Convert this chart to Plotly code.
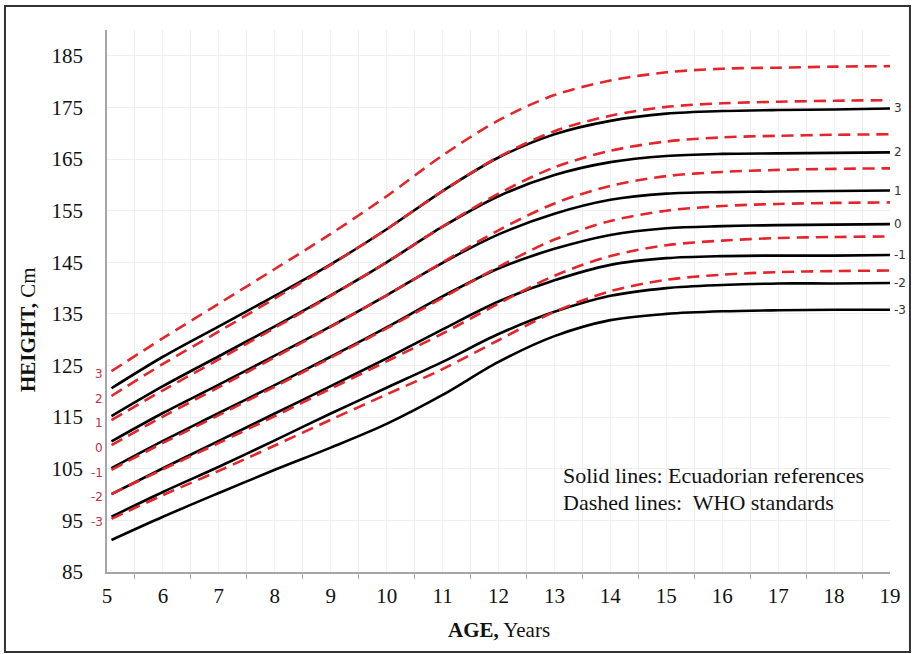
import plotly.graph_objects as go

ages = [5.08, 6, 7, 8, 9, 10, 11, 12, 13, 14, 15, 16, 17, 18, 19]
z_labels = ["3", "2", "1", "0", "-1", "-2", "-3"]

# WHO standards (dashed), z = 3 .. -3
who = {
    "3":  [123.9, 130.3, 137.0, 143.7, 150.5, 157.8, 165.7, 172.5, 177.4, 180.2, 181.8, 182.5, 182.7, 182.9, 183.0],
    "2":  [119.1, 125.3, 131.6, 138.0, 144.5, 151.4, 158.8, 165.4, 170.4, 173.4, 175.1, 175.8, 176.1, 176.3, 176.4],
    "1":  [114.4, 120.2, 126.2, 132.3, 138.5, 145.0, 151.9, 158.3, 163.4, 166.6, 168.4, 169.2, 169.5, 169.7, 169.8],
    "0":  [109.6, 115.1, 120.8, 126.6, 132.5, 138.6, 145.0, 151.2, 156.4, 159.8, 161.7, 162.5, 162.9, 163.1, 163.2],
    "-1": [104.8, 110.0, 115.4, 120.9, 126.5, 132.2, 138.1, 144.1, 149.4, 153.0, 155.0, 155.9, 156.3, 156.5, 156.6],
    "-2": [100.1, 104.9, 110.0, 115.2, 120.5, 125.8, 131.2, 137.0, 142.4, 146.2, 148.3, 149.2, 149.7, 149.9, 150.0],
    "-3": [95.3, 99.9, 104.6, 109.5, 114.5, 119.4, 124.3, 129.9, 135.4, 139.4, 141.6, 142.6, 143.1, 143.3, 143.4],
}

# Ecuadorian references (solid), z = 3 .. -3
ecu = {
    "3":  [120.6, 126.7, 132.6, 138.5, 144.6, 151.4, 158.8, 165.3, 169.8, 172.4, 173.8, 174.3, 174.5, 174.6, 174.8],
    "2":  [115.2, 121.0, 126.8, 132.6, 138.6, 145.0, 151.9, 157.8, 161.9, 164.4, 165.6, 166.0, 166.1, 166.2, 166.3],
    "1":  [110.3, 115.8, 121.3, 126.9, 132.6, 138.6, 144.9, 150.4, 154.4, 157.1, 158.3, 158.6, 158.7, 158.8, 158.9],
    "0":  [105.1, 110.4, 115.8, 121.2, 126.7, 132.4, 138.4, 143.8, 147.6, 150.3, 151.6, 152.0, 152.2, 152.3, 152.4],
    "-1": [100.1, 105.1, 110.4, 115.7, 121.0, 126.4, 132.0, 137.4, 141.5, 144.5, 145.8, 146.2, 146.3, 146.3, 146.4],
    "-2": [95.7, 100.5, 105.4, 110.5, 115.7, 120.7, 125.7, 131.1, 135.4, 138.5, 140.0, 140.6, 140.9, 140.9, 141.0],
    "-3": [91.2, 95.7, 100.3, 104.8, 109.1, 113.7, 119.3, 125.7, 130.7, 133.8, 135.0, 135.5, 135.7, 135.8, 135.8],
}

x_ticks = list(range(5, 20))
y_ticks = list(range(85, 190, 10))

RED = "#e3262b"
SERIF = "Liberation Serif, Times New Roman, serif"
SANS = "DejaVu Sans, Arial, sans-serif"

fig = go.Figure()
for z in z_labels:
    fig.add_trace(go.Scatter(x=ages, y=ecu[z], mode="lines", line=dict(color="black", width=2.6, shape="spline", smoothing=0.9),
                             showlegend=False, hoverinfo="skip"))
for z in z_labels:
    fig.add_trace(go.Scatter(x=ages, y=who[z], mode="lines", line=dict(color=RED, width=2.6, dash="12px,7px", shape="spline", smoothing=0.9),
                             showlegend=False, hoverinfo="skip"))

annotations = []
for z in z_labels:
    annotations.append(dict(x=19, y=ecu[z][-1], xref="x", yref="y", text=z, showarrow=False, xanchor="left",
                            xshift=2, font=dict(family=SANS, size=12, color="#333333")))
    annotations.append(dict(x=5, y=who[z][0] - 0.6, xref="x", yref="y", text=z, showarrow=False, xanchor="right",
                            xshift=-2, font=dict(family=SANS, size=12, color="#c8303a")))

annotations.append(dict(x=13.12, y=103.6, xref="x", yref="y", text="Solid lines: Ecuadorian references", showarrow=False,
                        xanchor="left", yanchor="middle", font=dict(family=SERIF, size=22, color="#111111")))
annotations.append(dict(x=13.12, y=98.4, xref="x", yref="y", text="Dashed lines:&nbsp; WHO standards", showarrow=False,
                        xanchor="left", yanchor="middle", font=dict(family=SERIF, size=22, color="#111111")))
annotations.append(dict(x=-0.1009, y=0.4465, xref="paper", yref="paper", text="<b>HEIGHT,</b> Cm", textangle=-90,
                        xanchor="center", yanchor="middle",
                        showarrow=False, font=dict(family=SERIF, size=21, color="#111111")))
annotations.append(dict(x=0.5, y=-0.107, xref="paper", yref="paper", text="<b>AGE,</b> Years",
                        xanchor="center", yanchor="middle",
                        showarrow=False, font=dict(family=SERIF, size=21, color="#111111")))

fig.update_layout(
    width=913, height=654,
    margin=dict(l=107, r=23, t=30, b=82),
    paper_bgcolor="white", plot_bgcolor="white",
    annotations=annotations,
    shapes=[dict(type="rect", xref="paper", yref="paper", x0=-0.1303, x1=1.0255, y0=-0.1476, y1=1.0443,
                 line=dict(color="#333333", width=2))],
    xaxis=dict(range=[5, 19], tickvals=x_ticks, ticktext=[str(v) for v in x_ticks], ticks="",
               showgrid=True, gridcolor="#efefef", gridwidth=1,
               showline=True, linecolor="#a6a6a6", linewidth=1.5, zeroline=False,
               ticklabelstandoff=4,
               tickfont=dict(family=SERIF, size=21, color="#111111"),
               minor=dict(tickvals=[v + 0.5 for v in x_ticks[:-1]], ticks="outside", ticklen=5, tickcolor="#a6a6a6",
                          showgrid=True, gridcolor="#efefef")),
    yaxis=dict(range=[85, 190], tickvals=y_ticks, ticks="", showgrid=True, gridcolor="#efefef", gridwidth=1,
               showline=True, linecolor="#a6a6a6", linewidth=1.5, zeroline=False,
               ticklabelstandoff=18,
               tickfont=dict(family=SERIF, size=21, color="#111111")),
)

fig.write_html("out.html", config={"displayModeBar": False},
               post_script="document.body.style.margin='0';document.body.style.overflow='hidden';")
